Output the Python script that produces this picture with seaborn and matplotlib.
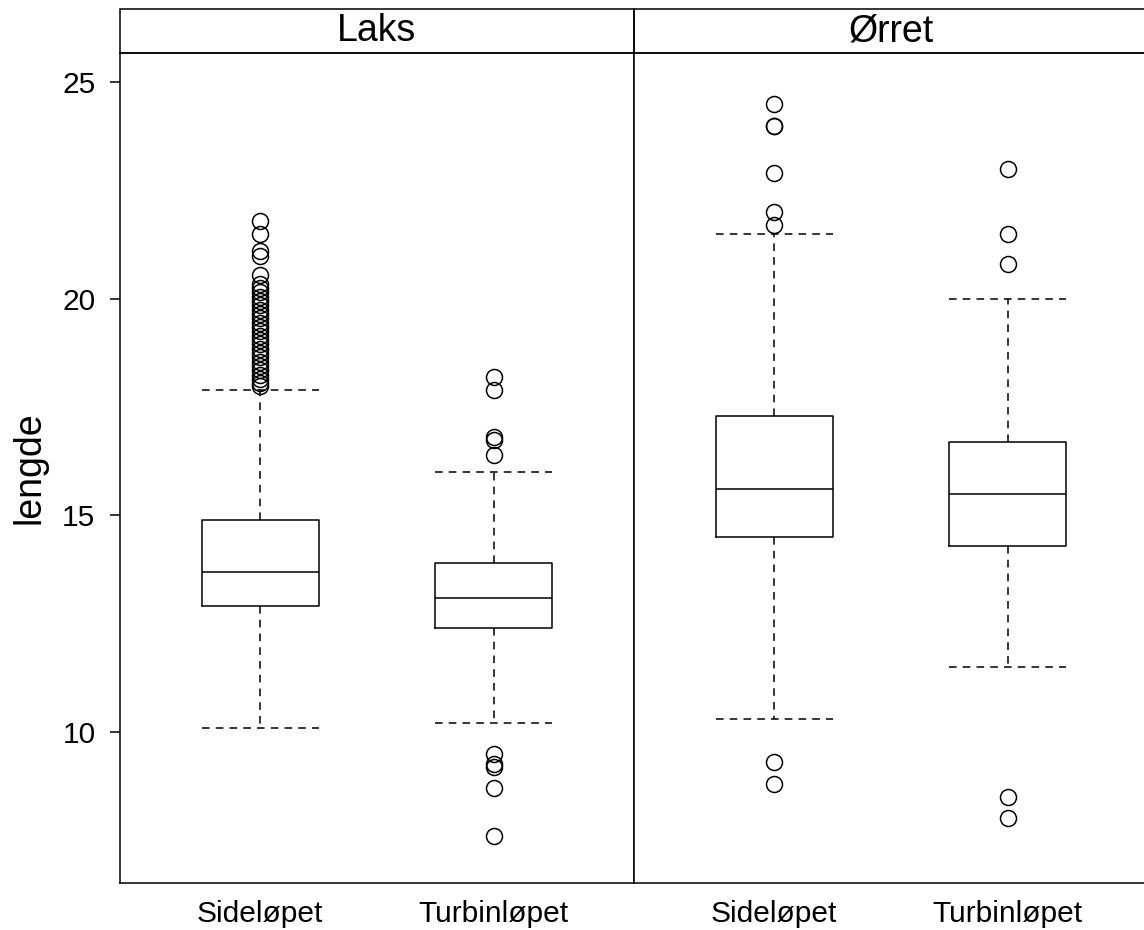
import matplotlib
matplotlib.use("Agg")
import matplotlib.pyplot as plt
from matplotlib.patches import Rectangle
import seaborn as sns
import pandas as pd

# ---- data ----
species = ["Laks", "Laks", "Ørret", "Ørret"]
route = ["Sideløpet", "Turbinløpet", "Sideløpet", "Turbinløpet"]
q1 = [12.9, 12.4, 14.5, 14.3]
median = [13.7, 13.1, 15.6, 15.5]
q3 = [14.9, 13.9, 17.3, 16.7]
whisk_lo = [10.1, 10.2, 10.3, 11.5]
whisk_hi = [17.9, 16.0, 21.5, 20.0]
outliers_laks_side = [21.8, 21.5, 21.1, 21.0, 20.55, 20.35, 20.25, 20.15, 20.05,
                      19.95, 19.85, 19.75, 19.65, 19.55, 19.45, 19.35, 19.25,
                      19.15, 19.05, 18.95, 18.85, 18.75, 18.65, 18.55, 18.45,
                      18.35, 18.25, 18.15, 18.05, 18.0]
outliers_laks_turb = [18.2, 17.9, 16.8, 16.75, 16.4, 9.5, 9.25, 9.2, 8.7, 7.6]
outliers_orret_side = [24.5, 24.0, 24.0, 22.9, 22.0, 21.7, 9.3, 8.8]
outliers_orret_turb = [23.0, 21.5, 20.8, 8.5, 8.0]
fliers = [outliers_laks_side, outliers_laks_turb, outliers_orret_side, outliers_orret_turb]
route_order = ["Sideløpet", "Turbinløpet"]
panel_order = ["Laks", "Ørret"]
yticks = [10, 15, 20, 25]

df = pd.DataFrame({"art": species, "rute": route, "q1": q1, "med": median,
                   "q3": q3, "lo": whisk_lo, "hi": whisk_hi, "fl": fliers})

sns.set_theme(style="white")
plt.rcParams["font.family"] = ["Liberation Sans", "DejaVu Sans"]
for k in ["text.color", "axes.labelcolor", "xtick.color", "ytick.color", "axes.edgecolor"]:
    plt.rcParams[k] = "black"

LW = 1.1
DASH = (0, (5, 4))


def draw_boxes(data, **kwargs):
    ax = plt.gca()
    stats = []
    pos = []
    for _, r in data.iterrows():
        stats.append(dict(med=r["med"], q1=r["q1"], q3=r["q3"],
                          whislo=r["lo"], whishi=r["hi"], fliers=r["fl"]))
        pos.append(route_order.index(r["rute"]) + 1)
    ax.bxp(stats, positions=pos, widths=0.5, showfliers=True,
           boxprops=dict(color="black", lw=LW),
           medianprops=dict(color="black", lw=LW),
           whiskerprops=dict(color="black", lw=LW, linestyle=DASH),
           capprops=dict(color="black", lw=LW, linestyle=DASH),
           capwidths=0.5,
           flierprops=dict(marker="o", markersize=11.5, markerfacecolor="none",
                           markeredgecolor="black", markeredgewidth=LW),
           manage_ticks=False)


g = sns.FacetGrid(df, col="art", col_order=panel_order, sharey=True,
                  height=9.3, aspect=0.6)
g.map_dataframe(draw_boxes)
g.figure.set_size_inches(11.44, 9.3)

W, H = 1144, 930
panel_w = 514
lefts = [120, 634]
strip_h = 44 / 830
for i, (ax, name) in enumerate(zip(g.axes.flat, panel_order)):
    ax.set_position([lefts[i] / W, 47 / H, panel_w / W, 830 / H])
    ax.set_xlim(0.4, 2.6)
    ax.set_ylim(6.51, 25.68)
    ax.set_xticks([1, 2])
    ax.set_xticklabels(route_order, fontsize=21.5)
    ax.set_title("")
    ax.set_xlabel("")
    ax.tick_params(axis="x", length=0, pad=12)
    ax.tick_params(axis="y", length=7.2, width=LW, direction="out", labelsize=21.5,
                   pad=10.5, left=(i == 0), labelleft=(i == 0))
    ax.set_yticks(yticks)
    for s in ax.spines.values():
        s.set_visible(True)
        s.set_color("black")
        s.set_linewidth(LW)
    rect = Rectangle((0, 1), 1, strip_h, transform=ax.transAxes, fill=False,
                     edgecolor="black", lw=LW, clip_on=False)
    ax.add_patch(rect)
    ax.text(0.5, 1 + strip_h / 2, name, transform=ax.transAxes, ha="center",
            va="center", fontsize=27)

g.axes.flat[0].set_ylabel("lengde", fontsize=27, labelpad=10.5)
g.axes.flat[1].set_ylabel("")

g.figure.savefig("out.png", dpi=100)
